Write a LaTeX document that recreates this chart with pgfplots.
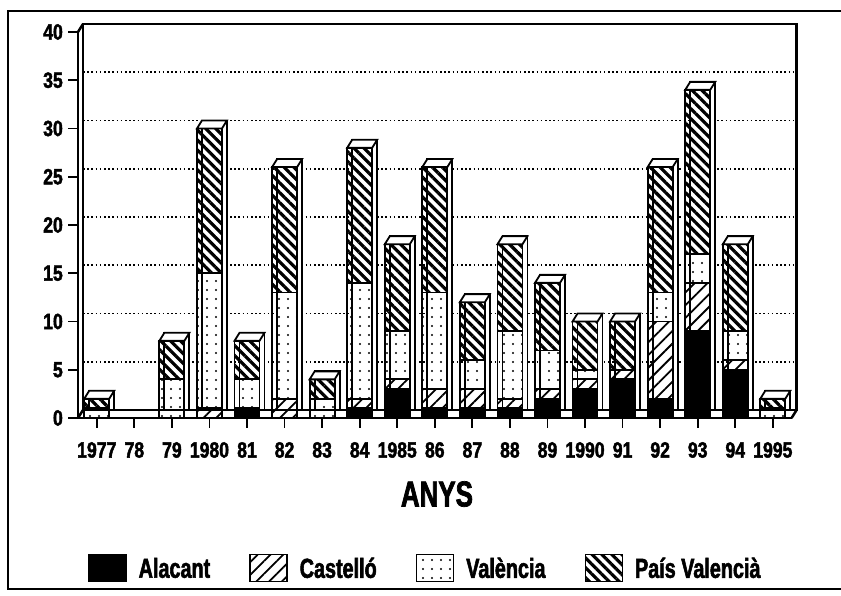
\documentclass[border=0pt]{standalone}
\usepackage{fontspec}
\setmainfont{Liberation Sans}[FakeStretch=0.8, BoldFeatures={FakeBold=2}]
\newfontfamily\narrowfont{Liberation Sans}[FakeStretch=0.72, BoldFeatures={FakeBold=2}]
\usepackage{pgfplots}
\pgfplotsset{compat=1.18}
\usetikzlibrary{patterns.meta}
\newcommand\tickfont{\fontsize{22}{24}\selectfont\bfseries}
\pgfdeclareplotmark{top3d}{%
  \pgfpathmoveto{\pgfpoint{-12.5pt}{0pt}}%
  \pgfpathlineto{\pgfpoint{-7.5pt}{8pt}}%
  \pgfpathlineto{\pgfpoint{17.5pt}{8pt}}%
  \pgfpathlineto{\pgfpoint{12.5pt}{0pt}}%
  \pgfpathclose
  \pgfusepathqfillstroke
}
\pgfplotsset{
  legbox/.style={legend image code/.code={\draw[##1, draw=black, line width=1.5pt] (0pt,-13pt) rectangle (37pt,14pt);}},
  geom/.style={scale only axis, width=713.6pt, height=386pt, xmin=-0.5, xmax=18.5, ymin=0, ymax=40, anchor=south west}
}
\begin{document}
\begin{tikzpicture}
\path[use as bounding box] (0pt,0pt) rectangle (841pt,596pt);
% outer frame
\draw[line width=2pt] (841pt,585pt) -- (8pt,585pt) -- (8pt,7pt) -- (841pt,7pt);
% back wall with grid and bar depth
\begin{axis}[geom, at={(83pt,186pt)},
  axis line style={line width=2.5pt},
  xtick=\empty, ytick={5,10,...,35}, yticklabels={}, major tick length=0pt,
  ymajorgrids, grid style={black, line width=1.8pt, dash pattern=on 1.6pt off 2.6pt},
  clip=false]
\addplot[ybar, bar width=25pt, fill=white, draw=black, line width=1.8pt] coordinates {
(0,2) (1,0) (2,8) (3,30) (4,8) (5,26) (6,4) (7,28) (8,18) (9,26) (10,12) (11,18) (12,14) (13,10) (14,10) (15,26) (16,34) (17,18) (18,2)};
\end{axis}
% front: stacked bars
\begin{axis}[geom, at={(78pt,178pt)},
  ybar stacked, bar width=25pt,
  axis x line*=bottom, axis y line*=left,
  axis line style={line width=2.5pt},
  tick align=outside, major tick length=10pt,
  tick style={black, line width=1.8pt},
  xtick={0,...,18},
  xticklabels={1977,78,79,1980,81,82,83,84,1985,86,87,88,89,1990,91,92,93,94,1995},
  ytick={0,5,...,40}, yticklabels={0,5,10,15,20,25,30,35,40},
  xticklabel style={font=\tickfont, inner sep=0pt, yshift=-14pt},
  yticklabel style={font=\tickfont, inner sep=0pt, xshift=-5pt},
  xlabel={ANYS},
  xlabel style={font=\fontsize{36}{40}\selectfont\narrowfont\bfseries, at={(axis description cs:0.503,-0.197)}, anchor=center},
  legend columns=4,
  legend style={draw=none, at={(axis description cs:0.014,-0.3886)}, anchor=west, inner sep=0pt,
    font=\fontsize{27.5}{30}\selectfont\narrowfont\bfseries,
    nodes={inner sep=0pt},
    /tikz/every odd column/.append style={column sep=12pt},
    /tikz/every even column/.append style={column sep=39pt}},
  clip=false]
\addplot[legbox, fill=black, draw=black, line width=1.8pt] coordinates {
(0,0) (1,0) (2,0) (3,0) (4,1) (5,0) (6,0) (7,1) (8,3) (9,1) (10,1) (11,1) (12,2) (13,3) (14,4) (15,2) (16,9) (17,5) (18,0)};
\addplot[legbox, pattern={Lines[angle=45,distance=9pt,line width=1.8pt]}, draw=black, line width=1.8pt] coordinates {
(0,0) (1,0) (2,0) (3,1) (4,0) (5,2) (6,0) (7,1) (8,1) (9,2) (10,2) (11,1) (12,1) (13,1) (14,1) (15,8) (16,5) (17,1) (18,0)};
\addplot[legbox, pattern={Dots[distance=9pt,radius=1.1pt]}, draw=black, line width=1.8pt] coordinates {
(0,1) (1,0) (2,4) (3,14) (4,3) (5,11) (6,2) (7,12) (8,5) (9,10) (10,3) (11,7) (12,4) (13,1) (14,0) (15,3) (16,3) (17,3) (18,1)};
\addplot[legbox, pattern={Lines[angle=-45,distance=7pt,line width=3.2pt]}, draw=black, line width=1.8pt] coordinates {
(0,1) (1,0) (2,4) (3,15) (4,4) (5,13) (6,2) (7,14) (8,9) (9,13) (10,6) (11,9) (12,7) (13,5) (14,5) (15,13) (16,17) (17,9) (18,1)};
\legend{Alacant, Castelló, València, País Valencià}
\end{axis}
% top faces of the bars
\begin{axis}[geom, at={(78pt,178pt)}, hide axis, clip=false]
\addplot[only marks, mark=top3d, mark options={fill=white, draw=black, line width=1.8pt}] coordinates {
(0,2) (2,8) (3,30) (4,8) (5,26) (6,4) (7,28) (8,18) (9,26) (10,12) (11,18) (12,14) (13,10) (14,10) (15,26) (16,34) (17,18) (18,2)};
\end{axis}
% wall and floor edges
\draw[line width=2.5pt] (78pt,564pt) -- (83pt,572pt);
\draw[line width=2.5pt] (78pt,178pt) -- (83pt,186pt);
\draw[line width=2.5pt] (791.6pt,178pt) -- (796.6pt,186pt);
\end{tikzpicture}
\end{document}
